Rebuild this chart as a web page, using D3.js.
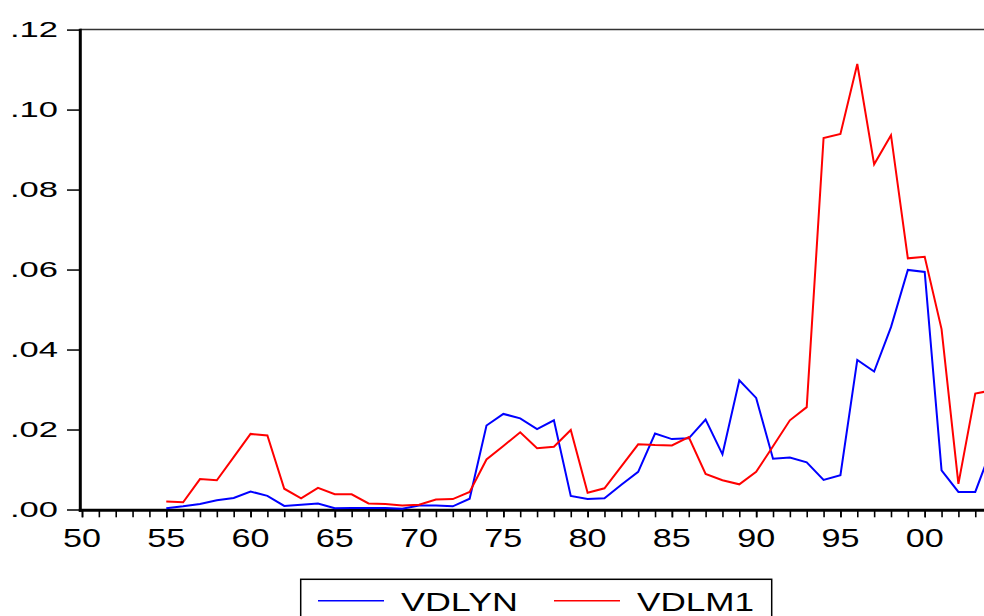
<!DOCTYPE html>
<html>
<head>
<meta charset="utf-8">
<script src="https://cdn.jsdelivr.net/npm/d3@7"></script>
<style>
  body { margin: 0; background: #fff; }
  svg { display: block; }
</style>
</head>
<body>
<svg></svg>
<script>
// data, 1955-2004
var years = [1955, 1956, 1957, 1958, 1959, 1960, 1961, 1962, 1963, 1964,
             1965, 1966, 1967, 1968, 1969, 1970, 1971, 1972, 1973, 1974,
             1975, 1976, 1977, 1978, 1979, 1980, 1981, 1982, 1983, 1984,
             1985, 1986, 1987, 1988, 1989, 1990, 1991, 1992, 1993, 1994,
             1995, 1996, 1997, 1998, 1999, 2000, 2001, 2002, 2003, 2004];
var vdlyn = [0.0003, 0.0008, 0.0014, 0.0023, 0.0029, 0.0045, 0.0034, 0.0009, 0.0012, 0.0015,
             0.0003, 0.0004, 0.0004, 0.0004, 0.0002, 0.0010, 0.0010, 0.0008, 0.0027, 0.0210,
             0.0239, 0.0228, 0.0201, 0.0223, 0.0034, 0.0026, 0.0028, 0.0062, 0.0094, 0.0190,
             0.0176, 0.0178, 0.0225, 0.0138, 0.0323, 0.0279, 0.0127, 0.0130, 0.0118, 0.0074,
             0.0086, 0.0374, 0.0345, 0.0456, 0.0599, 0.0594, 0.0098, 0.0044, 0.0044, 0.0156];
var vdlm1 = [0.0020, 0.0018, 0.0076, 0.0073, 0.0131, 0.0189, 0.0185, 0.0052, 0.0028, 0.0054,
             0.0038, 0.0038, 0.0015, 0.0014, 0.0010, 0.0012, 0.0025, 0.0026, 0.0044, 0.0125,
             0.0159, 0.0193, 0.0153, 0.0157, 0.0199, 0.0042, 0.0053, 0.0108, 0.0163, 0.0161,
             0.0160, 0.0181, 0.0089, 0.0073, 0.0063, 0.0094, 0.0158, 0.0223, 0.0256, 0.0929,
             0.0939, 0.1114, 0.0863, 0.0936, 0.0628, 0.0632, 0.0451, 0.0064, 0.0290, 0.0298];
var seriesNames = ["VDLYN", "VDLM1"];
var seriesColors = ["#0000ff", "#ff0000"];
var yTicks = [0, 0.02, 0.04, 0.06, 0.08, 0.10, 0.12];
var yTickLabels = [".00", ".02", ".04", ".06", ".08", ".10", ".12"];
var xTicks = [1950, 1955, 1960, 1965, 1970, 1975, 1980, 1985, 1990, 1995, 2000];
var xTickLabels = ["50", "55", "60", "65", "70", "75", "80", "85", "90", "95", "00"];

var width = 984;
var height = 616;
var svg = d3.select("svg")
            .attr("width", width)
            .attr("height", height);

// plot runs past the right edge of the picture
var x = d3.scaleLinear().domain([1950, 2005]).range([82, 82 + 55 * 16.854]);
var y = d3.scaleLinear().domain([0, 0.12]).range([509.5, 29.6]);

// top frame
svg.append("line")
   .attr("x1", 80).attr("x2", width)
   .attr("y1", y(0.12)).attr("y2", y(0.12))
   .attr("stroke", "#333").attr("stroke-width", 1.5);

// y axis
var yAxis = svg.append("g")
   .attr("transform", "translate(80,0)")
   .call(d3.axisLeft(y).tickValues(yTicks).tickSize(13).tickFormat(""));
yAxis.select(".domain").remove();
yAxis.selectAll(".tick line").attr("stroke", "#000").attr("stroke-width", 1.5);

svg.selectAll("text.ylab")
   .data(yTicks)
   .enter()
   .append("text")
   .attr("class", "ylab")
   .text(function(d, i) { return yTickLabels[i]; })
   .attr("x", 10)
   .attr("y", function(d) { return y(d) + 7.5; })
   .attr("textLength", 48)
   .attr("lengthAdjust", "spacingAndGlyphs")
   .attr("font-family", "Liberation Sans, Arial, sans-serif")
   .attr("font-size", 22)
   .attr("fill", "#000");

svg.append("line")
   .attr("x1", 80.3).attr("x2", 80.3)
   .attr("y1", y(0.12) - 0.8).attr("y2", 511.8)
   .attr("stroke", "#000").attr("stroke-width", 3);

// x axis: yearly minor ticks, labelled every 5 years
var xMinor = svg.append("g")
   .attr("transform", "translate(0,510.3)")
   .call(d3.axisBottom(x).tickValues(d3.range(1950, 2005)).tickSize(7).tickFormat(""));
xMinor.select(".domain").remove();
xMinor.selectAll(".tick line").attr("stroke", "#000").attr("stroke-width", 1.6);

var xMajor = svg.append("g")
   .attr("transform", "translate(0,510.3)")
   .call(d3.axisBottom(x).tickValues(xTicks).tickSize(7).tickFormat(""));
xMajor.select(".domain").remove();
xMajor.selectAll(".tick line").attr("stroke", "#000").attr("stroke-width", 1.6);

svg.selectAll("text.xlab")
   .data(xTicks)
   .enter()
   .append("text")
   .attr("class", "xlab")
   .text(function(d, i) { return xTickLabels[i]; })
   .attr("x", function(d) { return x(d); })
   .attr("y", 547)
   .attr("text-anchor", "middle")
   .attr("textLength", 38)
   .attr("lengthAdjust", "spacingAndGlyphs")
   .attr("font-family", "Liberation Sans, Arial, sans-serif")
   .attr("font-size", 26)
   .attr("fill", "#000");

svg.append("line")
   .attr("x1", 78.8).attr("x2", width)
   .attr("y1", 510.3).attr("y2", 510.3)
   .attr("stroke", "#000").attr("stroke-width", 3);

// series lines
var line = d3.line()
   .x(function(d) { return x(d[0]); })
   .y(function(d) { return y(d[1]); });

[vdlyn, vdlm1].forEach(function(vals, k) {
  svg.append("path")
     .datum(years.map(function(yr, i) { return [yr, vals[i]]; }))
     .attr("d", line)
     .attr("fill", "none")
     .attr("stroke", seriesColors[k])
     .attr("stroke-width", 2)
     .attr("stroke-linejoin", "miter");
});

// legend
svg.append("rect")
   .attr("x", 300.7).attr("y", 579.3)
   .attr("width", 471).attr("height", 60)
   .attr("fill", "#fff")
   .attr("stroke", "#000").attr("stroke-width", 1.5);

var legendX = [318, 554];
seriesNames.forEach(function(name, k) {
  svg.append("line")
     .attr("x1", legendX[k]).attr("x2", legendX[k] + 66)
     .attr("y1", 600.7).attr("y2", 600.7)
     .attr("stroke", seriesColors[k]).attr("stroke-width", 1.5);
  svg.append("text")
     .text(name)
     .attr("x", legendX[k] + 83)
     .attr("y", 610.7)
     .attr("textLength", 117)
     .attr("lengthAdjust", "spacingAndGlyphs")
     .attr("font-family", "Liberation Sans, Arial, sans-serif")
     .attr("font-size", 26)
     .attr("fill", "#000");
});
</script>
</body>
</html>
